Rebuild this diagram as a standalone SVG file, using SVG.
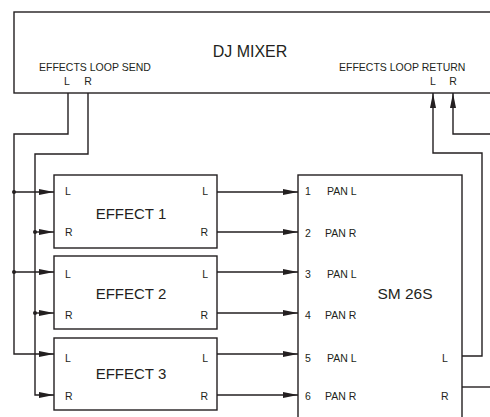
<svg xmlns="http://www.w3.org/2000/svg" width="490" height="417" viewBox="0 0 490 417">
<defs>
<style>
.box{fill:#fff;stroke:#231f20;stroke-width:1.4}
.w{fill:none;stroke:#231f20;stroke-width:1.4}
text{font-family:"Liberation Sans",Arial,sans-serif;fill:#231f20}
.s{font-size:10.5px}
.b{font-size:15px}
.m{text-anchor:middle}
.e{text-anchor:end}
</style>
<marker id="ah" markerUnits="userSpaceOnUse" markerWidth="16" markerHeight="8" refX="15" refY="3.5" orient="auto">
<polygon points="0,0.5 15,3.5 0,6.5" fill="#231f20"/>
</marker>
</defs>
<rect width="490" height="417" fill="#fff"/>

<g id="mixer">
<rect class="box" x="14" y="12" width="490" height="81"/>
<text class="m" x="250" y="57" style="font-size:16px">DJ MIXER</text>
<text class="s" x="39" y="71">EFFECTS LOOP SEND</text>
<text class="s m" x="67" y="85">L</text>
<text class="s m" x="88" y="85">R</text>
<text class="s" x="339" y="71">EFFECTS LOOP RETURN</text>
<text class="s m" x="433" y="85">L</text>
<text class="s m" x="453" y="85">R</text>
</g>

<g id="effect1">
<rect class="box" x="54" y="175" width="163" height="73"/>
<text class="s" x="65" y="195">L</text>
<text class="s" x="65" y="236">R</text>
<text class="s e" x="208" y="195">L</text>
<text class="s e" x="208" y="236">R</text>
<text class="b m" x="131" y="219">EFFECT 1</text>
</g>
<g id="effect2">
<rect class="box" x="54" y="256" width="163" height="73"/>
<text class="s" x="65" y="278">L</text>
<text class="s" x="65" y="319">R</text>
<text class="s e" x="208" y="278">L</text>
<text class="s e" x="208" y="319">R</text>
<text class="b m" x="131" y="299">EFFECT 2</text>
</g>
<g id="effect3">
<rect class="box" x="54" y="338" width="163" height="72"/>
<text class="s" x="65" y="362">L</text>
<text class="s" x="65" y="400">R</text>
<text class="s e" x="208" y="362">L</text>
<text class="s e" x="208" y="400">R</text>
<text class="b m" x="131" y="379">EFFECT 3</text>
</g>

<g id="sm26s">
<rect class="box" x="298" y="175" width="164" height="260"/>
<text class="m" x="405" y="299" style="font-size:15.5px">SM 26S</text>
<text class="s" x="305" y="195">1</text><text class="s" x="327" y="195">PAN L</text>
<text class="s" x="305" y="237">2</text><text class="s" x="325" y="237">PAN R</text>
<text class="s" x="305" y="278">3</text><text class="s" x="327" y="278">PAN L</text>
<text class="s" x="305" y="319">4</text><text class="s" x="325" y="319">PAN R</text>
<text class="s" x="305" y="362">5</text><text class="s" x="327" y="362">PAN L</text>
<text class="s" x="305" y="400">6</text><text class="s" x="325" y="400">PAN R</text>
<text class="s" x="442" y="362">L</text>
<text class="s" x="441" y="400">R</text>
</g>

<g id="connectors">
<path class="w" d="M68,93 V134 H14 V354 H54" marker-end="url(#ah)"/>
<path class="w" d="M14,192 H54" marker-end="url(#ah)"/>
<path class="w" d="M14,272 H54" marker-end="url(#ah)"/>
<path class="w" d="M88,93 V154 H35 V395 H54" marker-end="url(#ah)"/>
<path class="w" d="M35,232 H54" marker-end="url(#ah)"/>
<path class="w" d="M35,313 H54" marker-end="url(#ah)"/>
<circle cx="14" cy="192" r="2" fill="#231f20"/>
<circle cx="14" cy="272" r="2" fill="#231f20"/>
<circle cx="35" cy="232" r="2" fill="#231f20"/>
<circle cx="35" cy="313" r="2" fill="#231f20"/>
<path class="w" d="M217,192 H298" marker-end="url(#ah)"/>
<path class="w" d="M217,232 H298" marker-end="url(#ah)"/>
<path class="w" d="M217,272 H298" marker-end="url(#ah)"/>
<path class="w" d="M217,313 H298" marker-end="url(#ah)"/>
<path class="w" d="M217,354 H298" marker-end="url(#ah)"/>
<path class="w" d="M217,395 H298" marker-end="url(#ah)"/>
<path class="w" d="M462,356 H482 V153 H433 V93" marker-end="url(#ah)"/>
<path class="w" d="M492,134 H453 V93" marker-end="url(#ah)"/>
<path class="w" d="M462,387 H492"/>
</g>
</svg>
